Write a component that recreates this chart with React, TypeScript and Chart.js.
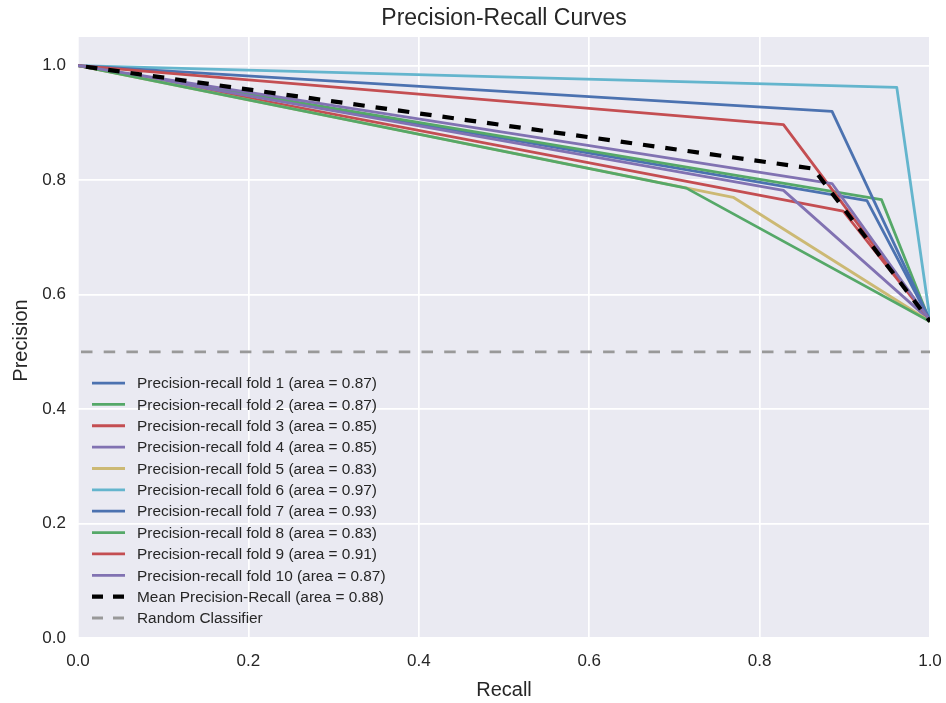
import React, { useEffect, useRef } from "react";
import { Chart, registerables } from "chart.js";

Chart.register(...registerables);

// ---- data ----
const foldNames = ["1", "2", "3", "4", "5", "6", "7", "8", "9", "10"];
const foldAreas = [0.87, 0.87, 0.85, 0.85, 0.83, 0.97, 0.93, 0.83, 0.91, 0.87];
// each fold curve: (0, 1) -> (kneeRecall, kneePrecision) -> (1, endPrecision)
const startRecall = [0, 0, 0, 0, 0, 0, 0, 0, 0, 0];
const startPrecision = [1, 1, 1, 1, 1, 1, 1, 1, 1, 1];
const kneeRecall = [0.926, 0.943, 0.898, 0.828, 0.769, 0.961, 0.885, 0.714, 0.828, 0.885];
const kneePrecision = [0.764, 0.766, 0.746, 0.782, 0.770, 0.962, 0.920, 0.786, 0.897, 0.794];
const endRecall = [1, 1, 1, 1, 1, 1, 1, 1, 1, 1];
const endPrecision = [0.555, 0.553, 0.555, 0.555, 0.553, 0.557, 0.555, 0.553, 0.555, 0.555];

const meanRecall = [0, 0.863, 1];
const meanPrecision = [1, 0.82, 0.553];
const meanArea = 0.88;

const randomRecall = [0, 1];
const randomPrecision = [0.5, 0.5];

const xTicks = [0, 0.2, 0.4, 0.6, 0.8, 1.0];
const yTicks = [0, 0.2, 0.4, 0.6, 0.8, 1.0];

const palette = ["#4C72B0", "#55A868", "#C44E52", "#8172B2", "#CCB974", "#64B5CD"];

const FONT = "'Liberation Sans', Arial, sans-serif";
const TEXT = "#262626";

export default function App() {
  const ref = useRef<HTMLCanvasElement | null>(null);

  useEffect(() => {
    const canvas = ref.current;
    if (!canvas) return;

    const datasets: any[] = [];
    const n = foldNames.length;
    for (let i = 0; i < n; i++) {
      datasets.push({
        label: `Precision-recall fold ${foldNames[i]} (area = ${foldAreas[i].toFixed(2)})`,
        data: [
          { x: startRecall[i], y: startPrecision[i] },
          { x: kneeRecall[i], y: kneePrecision[i] },
          { x: endRecall[i], y: endPrecision[i] },
        ],
        borderColor: palette[i % palette.length],
        borderWidth: 2.8,
        borderJoinStyle: "round",
        pointRadius: 0,
        tension: 0,
        fill: false,
        order: 100 - i,
      });
    }
    datasets.push({
      label: `Mean Precision-Recall (area = ${meanArea.toFixed(2)})`,
      data: meanRecall.map((x, k) => ({ x, y: meanPrecision[k] })),
      borderColor: "#000000",
      borderWidth: 4.2,
      borderDash: [11.5, 11],
      borderDashOffset: -8,
      pointRadius: 0,
      tension: 0,
      fill: false,
      order: 100 - n,
    });
    datasets.push({
      label: "Random Classifier",
      data: randomRecall.map((x, k) => ({ x, y: randomPrecision[k] })),
      borderColor: "#999999",
      borderWidth: 2.8,
      borderDash: [11.5, 11.2],
      borderDashOffset: -3,
      pointRadius: 0,
      tension: 0,
      fill: false,
      order: 100 - n - 1,
    });

    const bgPlugin = {
      id: "bg",
      beforeDraw(chart: any) {
        const { ctx, chartArea: a } = chart;
        ctx.save();
        ctx.fillStyle = "#EAEAF2";
        ctx.fillRect(a.left, a.top, a.right - a.left, a.bottom - a.top);
        ctx.restore();
      },
    };

    const textPlugin = {
      id: "texts",
      afterDraw(chart: any) {
        const { ctx, chartArea: a } = chart;
        const cx = (a.left + a.right) / 2;
        const cy = (a.top + a.bottom) / 2;
        ctx.save();
        ctx.fillStyle = TEXT;
        ctx.textAlign = "center";
        ctx.textBaseline = "middle";
        ctx.font = `23px ${FONT}`;
        ctx.fillText("Precision-Recall Curves", cx, 19);
        ctx.font = `20px ${FONT}`;
        ctx.fillText("Recall", cx, 690);
        ctx.translate(21, cy + 3);
        ctx.rotate(-Math.PI / 2);
        ctx.fillText("Precision", 0, 0);
        ctx.restore();

        // legend (lower left, no frame)
        const ds = chart.data.datasets;
        const rows = ds.length;
        const spacing = 21.36;
        const lastY = a.bottom - 20;
        ctx.save();
        ctx.font = `15.4px ${FONT}`;
        ctx.textAlign = "left";
        ctx.textBaseline = "middle";
        for (let i = 0; i < rows; i++) {
          const d = ds[i];
          const y = lastY - (rows - 1 - i) * spacing;
          ctx.beginPath();
          ctx.strokeStyle = d.borderColor;
          ctx.lineWidth = d.borderWidth;
          ctx.setLineDash(d.borderDash ? [11, 10] : []);
          ctx.lineCap = "butt";
          ctx.moveTo(a.left + 14, y);
          ctx.lineTo(a.left + 47, y);
          ctx.stroke();
          ctx.setLineDash([]);
          ctx.fillStyle = TEXT;
          ctx.fillText(d.label, a.left + 59, y + 1);
        }
        ctx.restore();
      },
    };

    const chart = new Chart(canvas, {
      type: "line",
      data: { datasets },
      options: {
        animation: false,
        responsive: false,
        maintainAspectRatio: false,
        layout: { padding: { top: 37, right: 16, left: 0, bottom: 0 } },
        plugins: {
          legend: { display: false },
          title: { display: false },
          tooltip: { enabled: false },
        },
        elements: { line: { borderCapStyle: "butt" } },
        scales: {
          x: {
            type: "linear",
            min: 0,
            max: 1,
            afterFit(s: any) {
              s.height = 65;
              s.paddingLeft = 0;
              s.paddingRight = 0;
            },
            afterBuildTicks(s: any) {
              s.ticks = xTicks.map((v) => ({ value: v }));
            },
            border: { display: false },
            grid: { color: "#FFFFFF", lineWidth: 1.7, drawTicks: false },
            ticks: {
              padding: 13,
              color: TEXT,
              font: { family: FONT, size: 17 },
              maxRotation: 0,
              callback: (v: any) => Number(v).toFixed(1),
            },
          },
          y: {
            type: "linear",
            min: 0,
            max: 1.05,
            afterFit(s: any) {
              s.width = 78;
              s.paddingTop = 0;
              s.paddingBottom = 0;
            },
            afterBuildTicks(s: any) {
              s.ticks = yTicks.map((v) => ({ value: v }));
            },
            border: { display: false },
            grid: { color: "#FFFFFF", lineWidth: 1.7, drawTicks: false },
            ticks: {
              padding: 12,
              color: TEXT,
              font: { family: FONT, size: 17 },
              callback: (v: any) => Number(v).toFixed(1),
            },
          },
        },
      },
      plugins: [bgPlugin, textPlugin],
    });

    return () => chart.destroy();
  }, []);

  return (
    <div style={{ position: "absolute", left: 0, top: 0, width: 946, height: 703, background: "#FFFFFF" }}>
      <canvas ref={ref} width={946} height={703} style={{ width: 946, height: 703, display: "block" }} />
    </div>
  );
}
